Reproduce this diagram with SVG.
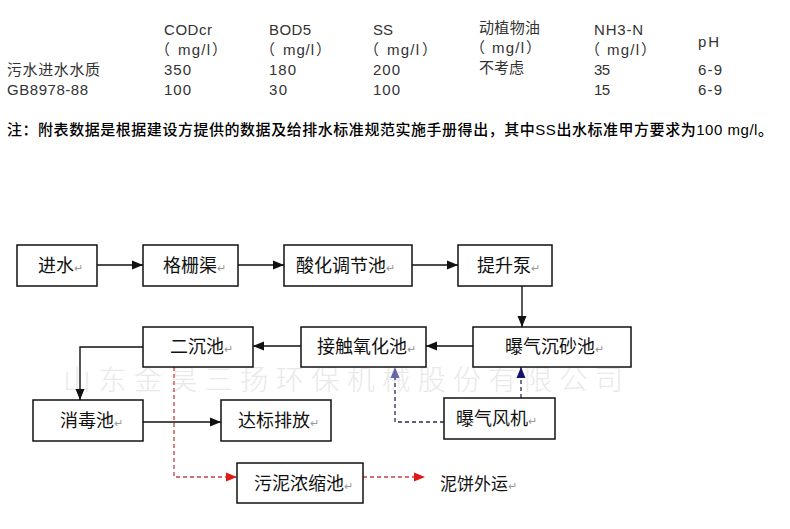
<svg xmlns="http://www.w3.org/2000/svg" width="790" height="529" viewBox="0 0 790 529">
<style>
.t{font-family:"Liberation Sans","Noto Sans CJK SC",sans-serif;font-size:15px;fill:#333}
.box{fill:#fff;stroke:#111;stroke-width:1.5}
.lbl{font-family:"Noto Sans CJK SC","Liberation Sans",sans-serif;font-size:18px;fill:#111}
.pm{fill:#999;font-size:11px}
.solid{fill:none;stroke:#111;stroke-width:1.4}
.red{fill:none;stroke:#c84040;stroke-width:1.3;stroke-dasharray:4,3}
.blue{fill:none;stroke:#2a2a55;stroke-width:1.3;stroke-dasharray:4,3}
.wm{font-family:"Noto Sans CJK SC",serif;font-size:28px;fill:#e9e9e9;font-weight:300}
</style>
<defs>
<marker id="ab" markerUnits="userSpaceOnUse" markerWidth="12" markerHeight="10" refX="11" refY="5" orient="auto"><path d="M0,0.5 L11,5 L0,9.5 z" fill="#111"/></marker>
<marker id="ar" markerUnits="userSpaceOnUse" markerWidth="12" markerHeight="10" refX="11" refY="5" orient="auto"><path d="M0,0.5 L11,5 L0,9.5 z" fill="#e01818"/></marker>
<marker id="an" markerUnits="userSpaceOnUse" markerWidth="12" markerHeight="10" refX="11" refY="5" orient="auto"><path d="M0,0.5 L11,5 L0,9.5 z" fill="#14146e"/></marker>
<marker id="al" markerUnits="userSpaceOnUse" markerWidth="12" markerHeight="10" refX="11" refY="5" orient="auto"><path d="M0,0.5 L11,5 L0,9.5 z" fill="#6868a8"/></marker>
</defs>
<rect width="790" height="529" fill="#fff"/>

<g id="table">
<text class="t" x="164" y="35" textLength="48" lengthAdjust="spacing">CODcr</text>
<text class="t" x="269" y="35" textLength="42" lengthAdjust="spacing">BOD5</text>
<text class="t" x="373" y="35" textLength="20" lengthAdjust="spacing">SS</text>
<text class="t" x="479" y="33" textLength="61" lengthAdjust="spacing">动植物油</text>
<text class="t" x="594" y="35" textLength="49" lengthAdjust="spacing">NH3-N</text>
<text class="t" x="698" y="47" textLength="21" lengthAdjust="spacing">pH</text>
<text class="t" y="55"><tspan x="155">（</tspan><tspan x="174"> </tspan><tspan x="178" textLength="32" lengthAdjust="spacing">mg/l</tspan><tspan x="212">）</tspan></text>
<text class="t" y="55"><tspan x="260">（</tspan><tspan x="279"> </tspan><tspan x="283" textLength="31" lengthAdjust="spacing">mg/l</tspan><tspan x="316">）</tspan></text>
<text class="t" y="55"><tspan x="364">（</tspan><tspan x="383"> </tspan><tspan x="387" textLength="32" lengthAdjust="spacing">mg/l</tspan><tspan x="422">）</tspan></text>
<text class="t" y="53"><tspan x="470">（</tspan><tspan x="489"> </tspan><tspan x="492" textLength="32" lengthAdjust="spacing">mg/l</tspan><tspan x="526">）</tspan></text>
<text class="t" y="55"><tspan x="585">（</tspan><tspan x="604"> </tspan><tspan x="607" textLength="32" lengthAdjust="spacing">mg/l</tspan><tspan x="641">）</tspan></text>
<text class="t" x="7" y="75" textLength="93" lengthAdjust="spacing">污水进水水质</text>
<text class="t" x="164" y="75" textLength="27" lengthAdjust="spacing">350</text>
<text class="t" x="269" y="75" textLength="27" lengthAdjust="spacing">180</text>
<text class="t" x="373" y="75" textLength="27" lengthAdjust="spacing">200</text>
<text class="t" x="479" y="73" textLength="45" lengthAdjust="spacing">不考虑</text>
<text class="t" x="594" y="75" textLength="16" lengthAdjust="spacing">35</text>
<text class="t" x="698" y="75" textLength="24" lengthAdjust="spacing">6-9</text>
<text class="t" x="7" y="95" textLength="81" lengthAdjust="spacing">GB8978-88</text>
<text class="t" x="164" y="95" textLength="27" lengthAdjust="spacing">100</text>
<text class="t" x="269" y="95" textLength="18" lengthAdjust="spacing">30</text>
<text class="t" x="373" y="95" textLength="27" lengthAdjust="spacing">100</text>
<text class="t" x="594" y="95" textLength="16" lengthAdjust="spacing">15</text>
<text class="t" x="698" y="95" textLength="24" lengthAdjust="spacing">6-9</text>
</g>
<text id="note" class="t" x="7" y="135" textLength="766" lengthAdjust="spacing" style="fill:#000;font-weight:500">注：附表数据是根据建设方提供的数据及给排水标准规范实施手册得出，其中SS出水标准甲方要求为100 mg/l。</text>

<text class="wm" x="63" y="390" textLength="560" lengthAdjust="spacing">山东金昊三扬环保机械股份有限公司</text>

<g id="connectors">
<line class="solid" x1="97" y1="265" x2="143" y2="265" marker-end="url(#ab)"/>
<line class="solid" x1="238" y1="265" x2="284" y2="265" marker-end="url(#ab)"/>
<line class="solid" x1="412" y1="265" x2="458" y2="265" marker-end="url(#ab)"/>
<line class="solid" x1="522" y1="286" x2="522" y2="327" marker-end="url(#ab)"/>
<line class="solid" x1="473" y1="346" x2="426" y2="346" marker-end="url(#ab)"/>
<line class="solid" x1="301" y1="346" x2="253" y2="346" marker-end="url(#ab)"/>
<polyline class="solid" points="143,347 80,347 80,400" marker-end="url(#ab)"/>
<line class="solid" x1="143" y1="422" x2="221" y2="422" marker-end="url(#ab)"/>
<polyline class="red" points="174,367 174,477 237,477" marker-end="url(#ar)"/>
<line class="red" x1="363" y1="477" x2="425" y2="477" marker-end="url(#ar)"/>
<line class="blue" x1="521" y1="398" x2="521" y2="367" marker-end="url(#an)"/>
<polyline class="blue" points="444,422 395,422 395,367" marker-end="url(#al)"/>
</g>

<g id="n-jinshui"><rect class="box" x="17" y="245" width="80" height="41"/><text class="lbl" x="38" y="272">进水<tspan class="pm">↵</tspan></text></g>
<g id="n-geshanqu"><rect class="box" x="143" y="245" width="95" height="41"/><text class="lbl" x="163" y="272">格栅渠<tspan class="pm">↵</tspan></text></g>
<g id="n-suanhua"><rect class="box" x="284" y="245" width="128" height="41"/><text class="lbl" x="296" y="272">酸化调节池<tspan class="pm">↵</tspan></text></g>
<g id="n-tishengbeng"><rect class="box" x="458" y="245" width="94" height="41"/><text class="lbl" x="477" y="272">提升泵<tspan class="pm">↵</tspan></text></g>
<g id="n-erchenchi"><rect class="box" x="143" y="327" width="110" height="40"/><text class="lbl" x="170" y="353">二沉池<tspan class="pm">↵</tspan></text></g>
<g id="n-jiechu"><rect class="box" x="301" y="327" width="125" height="40"/><text class="lbl" x="317" y="353">接触氧化池<tspan class="pm">↵</tspan></text></g>
<g id="n-puqichensha"><rect class="box" x="473" y="327" width="158" height="40"/><text class="lbl" x="505" y="353">曝气沉砂池<tspan class="pm">↵</tspan></text></g>
<g id="n-xiaodu"><rect class="box" x="33" y="400" width="110" height="41"/><text class="lbl" x="60" y="427">消毒池<tspan class="pm">↵</tspan></text></g>
<g id="n-dabiao"><rect class="box" x="221" y="400" width="110" height="41"/><text class="lbl" x="238" y="427">达标排放<tspan class="pm">↵</tspan></text></g>
<g id="n-fengji"><rect class="box" x="444" y="398" width="111" height="41"/><text class="lbl" x="456" y="425">曝气风机<tspan class="pm">↵</tspan></text></g>
<g id="n-wuni"><rect class="box" x="237" y="463" width="126" height="40"/><text class="lbl" x="254" y="490">污泥浓缩池<tspan class="pm">↵</tspan></text></g>
<g id="n-nibing"><text class="lbl" x="440" y="490" style="font-size:17px">泥饼外运<tspan class="pm">↵</tspan></text></g>
</svg>
